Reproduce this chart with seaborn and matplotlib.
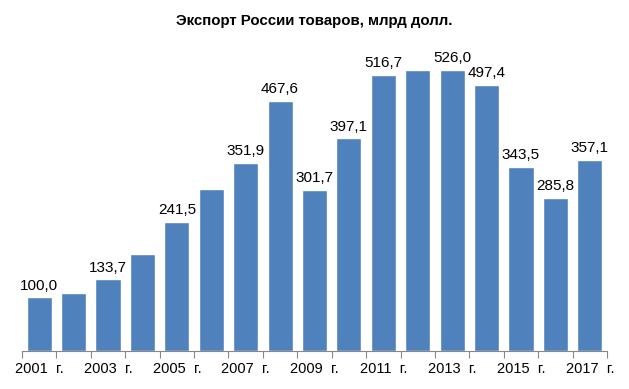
import numpy as np
import pandas as pd
import matplotlib
matplotlib.use("Agg")
import matplotlib.pyplot as plt
import seaborn as sns

# Data
years = [str(y) for y in range(2001, 2018)]
export = [100.0, 107.3, 133.7, 181.6, 241.5, 302.6, 351.9, 467.6, 301.7,
          397.1, 516.7, 524.7, 526.0, 497.4, 343.5, 285.8, 357.1]
labeled = ["2001", "2003", "2005", "2007", "2008", "2009", "2010", "2011",
           "2013", "2014", "2015", "2016", "2017"]
tick_years = ["2001", "2003", "2005", "2007", "2009", "2011", "2013", "2015", "2017"]

df = pd.DataFrame({"year": years, "value": export})

sns.set_style("white")
plt.rcParams["font.family"] = ["Liberation Sans", "DejaVu Sans"]

fig = plt.figure(figsize=(6.29, 3.89), dpi=100)
ax = fig.add_axes([0.035, 0.098, 0.93, 0.825])

sns.barplot(data=df, x="year", y="value", color="#4F81BD", saturation=1,
            width=0.73, ax=ax)

ax.set_ylim(0, 600)
ax.set_xlim(-0.5, len(years) - 0.5)
ax.set_yticks([])
ax.set_xlabel("")
ax.set_ylabel("")

# Value labels
for i, (y, v) in enumerate(zip(years, export)):
    if y in labeled:
        ax.text(i, v + 9, f"{v:.1f}".replace(".", ","), ha="center", va="bottom",
                fontsize=11, color="black")

# Ticks at category boundaries, labels at every other year
ax.set_xticks(np.arange(len(years) + 1) - 0.5)
ax.set_xticklabels([])
ax.tick_params(axis="x", which="major", length=5, color="#888888", direction="out", bottom=True)
ax.set_xticks([years.index(t) for t in tick_years], minor=True)
ax.set_xticklabels([t + "  г." for t in tick_years], minor=True, fontsize=10.5, color="black")
ax.tick_params(axis="x", which="minor", length=0, pad=8)

for s in ["top", "right", "left"]:
    ax.spines[s].set_visible(False)
ax.spines["bottom"].set_color("#888888")

fig.text(0.5, 0.947, "Экспорт России товаров, млрд долл.", ha="center", va="center",
         fontsize=10.8, fontweight="bold", color="black")

fig.savefig("out.png", dpi=100)
